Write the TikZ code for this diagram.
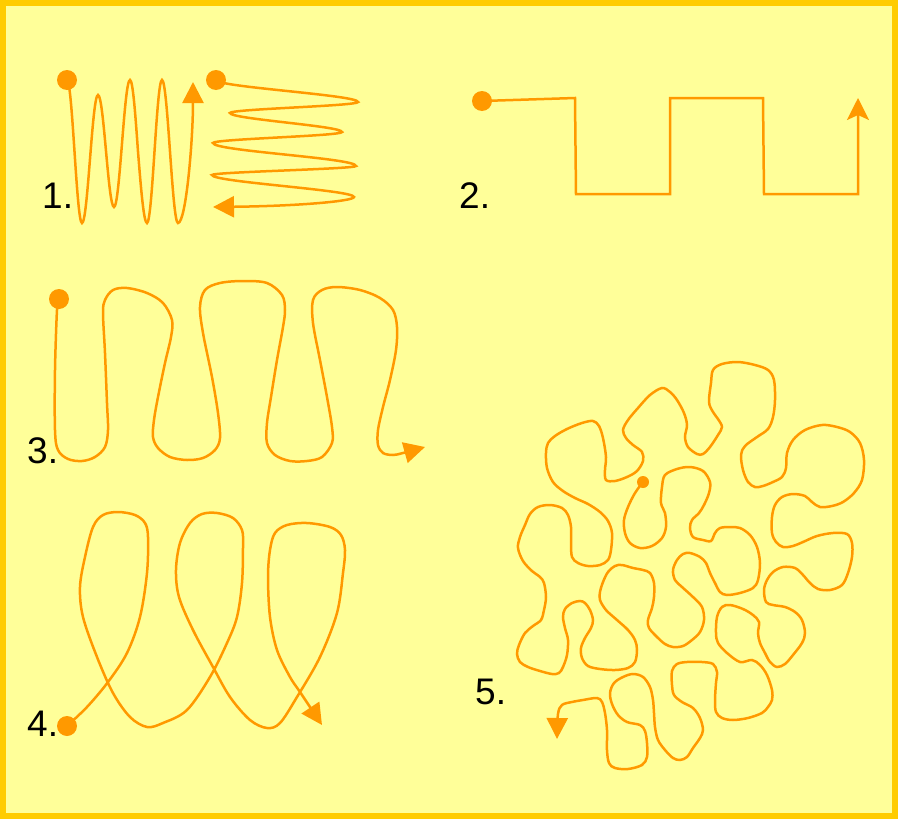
\documentclass[tikz,border=0pt]{standalone}
\usepackage{fontspec}
\setmainfont{Liberation Sans}
\usetikzlibrary{arrows.meta}
\definecolor{paper}{HTML}{FFFF99}
\definecolor{framegold}{HTML}{FFCC00}
\definecolor{pathorange}{HTML}{FF9900}

\begin{document}
\begin{tikzpicture}[x=1pt, y=-1pt,
  curve/.style={pathorange, line width=2.5pt},
  tipA/.style={-{Triangle[length=21pt,width=21pt]}},
  numlabel/.style={anchor=base west, inner sep=0pt, font=\fontsize{37}{44}\selectfont}]
  \useasboundingbox (0,0) rectangle (898,819);
  \draw[framegold, line width=6pt, fill=paper] (3,3) rectangle (895,816);

  % 1. up-down wave and left-right wave
  \fill[pathorange] (67,80) circle (10pt);
  \draw[curve, tipA] (67,80) cos (74.5,151.5) sin (82,223) cos (90,159) sin (98,95)
    cos (106,151) sin (114,207) cos (122,143.5) sin (130,80) cos (138,151.5) sin (147,223)
    cos (154.5,151.5) sin (162,80) cos (170,151.5) sin (178,223)
    .. controls (186,223) and (193,140) .. (193,82);
  \fill[pathorange] (216,80) circle (10pt);
  \draw[curve, tipA] (216,80) .. controls (216,87) and (358,95) .. (358,102)
    .. controls (358,106) and (230,109) .. (230,113)
    .. controls (230,119) and (342,126) .. (342,132)
    .. controls (342,136) and (213,139) .. (213,143)
    .. controls (213,151) and (356,158) .. (356,166)
    .. controls (356,169) and (212,172) .. (212,175)
    .. controls (212,182) and (354,190) .. (354,197)
    .. controls (354,201) and (300,206) .. (213,207);
  \node[numlabel] (n1) at (42,208) {1.};

  % 2. square wave
  \fill[pathorange] (482,101) circle (10pt);
  \draw[curve, -{Stealth[length=22pt,width=22pt,inset=5pt]}] (482,101) -- (575,98) -- (576,194)
    -- (670,194) -- (670,98) -- (763,98) -- (764,194) -- (858,194) -- (858,98);
  \node[numlabel] (n2) at (459,208) {2.};

  % 3. meander
  \fill[pathorange] (59,299) circle (10pt);
  \draw[curve, tipA] plot[smooth, tension=0.55] coordinates {
    (59,299) (57,310) (55,370) (55,430) (58,450) (68,459) (82,461) (95,457) (105,447)
    (108,430) (107,403) (105,353) (103,313) (105,300) (113,290) (127,288) (147,293)
    (163,303) (172,320) (171,337) (165,363) (158,397) (154,420) (153,437) (158,448)
    (170,457) (187,460) (203,458) (215,450) (220,438) (218,413) (212,377) (203,333)
    (200,307) (205,290) (220,283) (243,281) (267,283) (282,295) (285,310) (283,327)
    (277,360) (271,397) (267,423) (267,443) (275,455) (290,461) (307,461) (322,457)
    (332,443) (332,427) (327,397) (320,360) (313,323) (313,300) (322,290) (337,287)
    (360,290) (380,298) (393,310) (397,327) (396,350) (390,380) (383,407) (378,430)
    (378,445) (383,453) (393,455) (403,453) (425,447)};
  \node[numlabel] (n3) at (27,463) {3.};

  % 4. loops
  \fill[pathorange] (67,726) circle (10pt);
  \draw[curve, tipA] plot[smooth, tension=0.55] coordinates {
    (67,726) (87,707) (108,682) (127,653) (140,617) (147,573) (148,537) (145,523)
    (135,515) (118,512) (103,515) (93,527) (85,557) (80,587) (83,617) (97,657)
    (113,693) (130,717) (147,727) (163,723) (187,710) (210,677) (227,643) (237,617)
    (242,583) (243,547) (242,530) (233,518) (217,513) (202,514) (190,523) (180,543)
    (176,570) (179,597) (193,630) (213,667) (230,697) (250,720) (267,728) (280,723)
    (297,697) (320,657) (337,613) (343,573) (345,550) (341,535) (330,527) (307,523)
    (287,525) (275,533) (270,550) (268,577) (270,617) (277,650) (290,677) (300,692)
    (322,725)};
  \node[numlabel] (n4) at (27,736) {4.};

  % 5. random walk
  \fill[pathorange] (643,482) circle (6pt);
  \draw[curve, tipA] plot[smooth, tension=0.55] coordinates {
    (643,482) (635,493) (628,507) (624,520) (625,533) (630,543) (640,548) (652,546)
    (662,538) (666,527) (665,513) (661,503) (662,487) (665,475) (677,469) (690,467)
    (703,471) (710,482) (709,493) (704,505) (699,513) (692,520) (690,528) (693,537)
    (703,540) (711,541) (715,533) (720,528) (730,527) (740,528) (750,535) (757,547)
    (760,563) (758,580) (753,588) (740,593) (727,595) (720,592) (715,583) (710,573)
    (706,563) (700,557) (690,553) (683,554) (677,560) (673,570) (675,580) (682,587)
    (693,597) (702,607) (704,620) (700,632) (692,640) (683,646) (673,647) (665,644)
    (657,637) (649,628) (648,620) (652,608) (654,597) (654,583) (650,573) (643,570)
    (633,568) (622,565) (615,566) (608,572) (603,582) (600,592) (600,600) (606,610)
    (617,620) (628,630) (635,640) (637,650) (635,662) (628,668) (615,670) (600,669)
    (588,666) (582,658) (581,648) (585,638) (591,628) (593,620) (590,610) (585,603)
    (580,601) (572,603) (565,609) (563,617) (565,628) (568,640) (567,655) (563,667)
    (559,673) (552,674) (540,671) (528,667) (520,662) (517,654) (519,645) (525,633)
    (533,626) (541,620) (544,610) (546,597) (544,583) (540,577) (532,571) (523,561)
    (518,548) (520,537) (525,525) (530,514) (538,507) (550,505) (562,508) (568,515)
    (571,527) (571,543) (572,557) (578,563) (588,566) (600,565) (608,560) (611,550)
    (612,533) (608,521) (600,512) (588,504) (575,498) (563,491) (553,482) (547,468)
    (546,453) (548,443) (555,436) (567,429) (582,423) (593,421) (599,426) (603,438)
    (606,457) (605,470) (606,480) (615,481) (627,477) (637,471) (643,461) (642,452)
    (633,445) (626,438) (623,430) (628,420) (638,408) (650,395) (662,388) (670,392)
    (677,400) (684,413) (687,425) (685,437) (688,447) (697,454) (703,454) (710,447)
    (718,435) (722,427) (718,419) (713,412) (709,402) (711,383) (713,370) (722,364)
    (738,362) (755,365) (768,370) (774,380) (775,400) (773,417) (768,429) (757,437)
    (745,446) (741,455) (743,470) (748,482) (755,487) (763,486) (773,482) (782,477)
    (786,468) (787,453) (793,440) (805,430) (822,425) (837,427) (850,432) (860,443)
    (864,460) (862,480) (854,493) (843,502) (832,506) (820,507) (812,502) (805,496)
    (793,494) (782,497) (775,505) (772,517) (772,533) (776,542) (783,547) (793,546)
    (803,542) (817,536) (833,533) (847,534) (852,543) (852,557) (848,573) (842,585)
    (830,590) (818,589) (810,583) (803,575) (795,568) (783,567) (773,572) (767,580)
    (764,590) (766,602) (773,605) (785,607) (795,612) (802,620) (805,633) (802,643)
    (793,655) (785,664) (777,667) (770,662) (765,653) (760,643) (758,633) (759,622)
    (753,615) (743,609) (730,605) (722,607) (717,617) (716,633) (718,643) (727,653)
    (740,662) (752,660) (760,665) (767,675) (772,690) (772,700) (768,707) (762,713)
    (748,718) (733,720) (722,718) (716,712) (715,700) (716,683) (717,672) (713,664)
    (702,662) (687,662) (677,664) (672,671) (672,685) (674,695) (682,702) (693,708)
    (700,718) (703,730) (700,738) (693,748) (687,757) (680,760) (673,758) (665,750)
    (658,740) (655,727) (654,713) (653,700) (650,687) (643,677) (633,674) (623,677)
    (614,683) (610,693) (612,704) (618,715) (627,722) (640,725) (645,731) (647,743)
    (647,757) (642,765) (628,769) (615,768) (609,763) (607,750) (607,730) (605,713)
    (602,702) (597,698) (583,700) (572,702) (562,705) (558,714) (557,739)};
  \node[numlabel] (n5) at (475,704) {5.};
\end{tikzpicture}
\end{document}
